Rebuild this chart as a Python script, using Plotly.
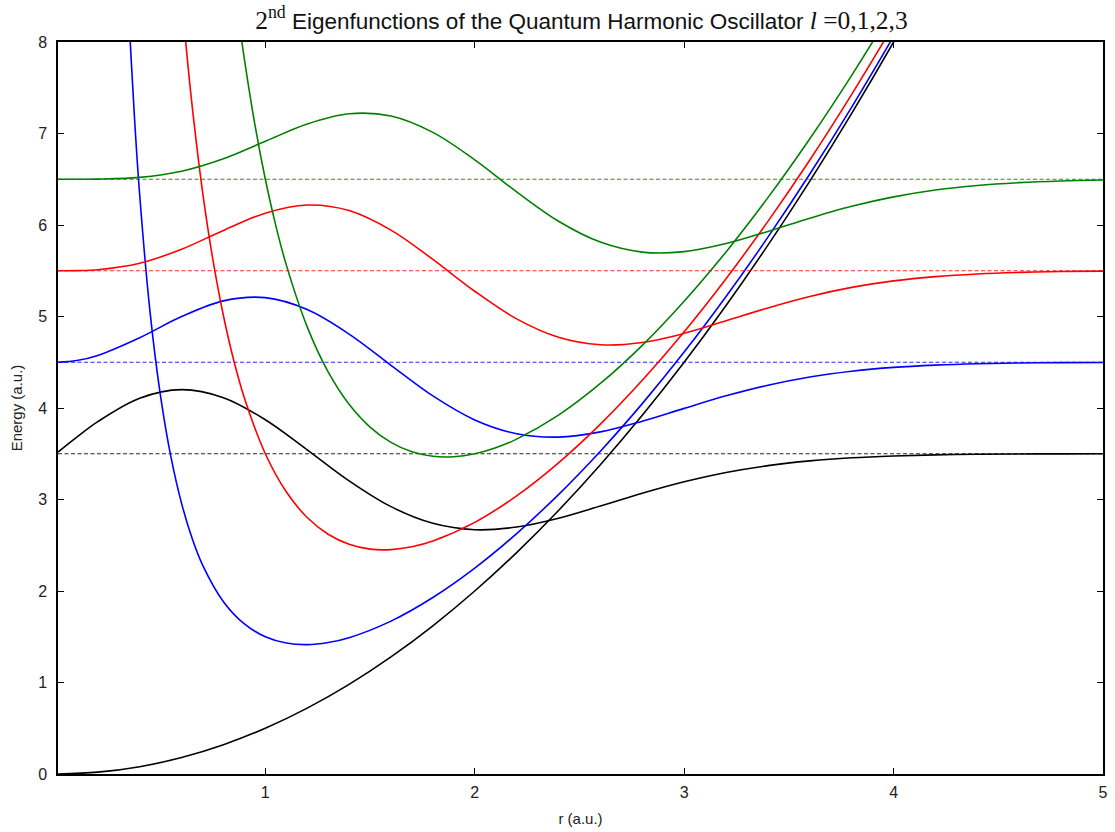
import plotly.graph_objects as go

# ---------------- data ----------------
ls = [0, 1, 2, 3]
colors = ["#000000", "#0000FF", "#FF0000", "#008000"]
energies = [3.5, 4.5, 5.5, 6.5]

# radial grid used for the eigenfunctions
r_wave = [0.01, 0.1, 0.2, 0.4, 0.6, 0.8, 1.0, 1.2, 1.4, 1.6, 1.8, 2.0, 2.2, 2.4,
          2.6, 2.8, 3.0, 3.2, 3.4, 3.6, 3.8, 4.0, 4.2, 4.4, 4.6, 4.8, 5.0]

wave_l0 = [3.518, 3.682, 3.851, 4.107, 4.201, 4.113, 3.872, 3.543, 3.204, 2.922,
           2.740, 2.670, 2.699, 2.796, 2.929, 3.068, 3.193, 3.295, 3.370,
           3.422, 3.456, 3.476, 3.488, 3.494, 3.497, 3.499, 3.500]
wave_l1 = [4.500, 4.519, 4.575, 4.768, 4.999, 5.171, 5.206, 5.076, 4.808, 4.467,
           4.132, 3.870, 3.719, 3.682, 3.739, 3.856, 3.996, 4.133, 4.249,
           4.339, 4.402, 4.444, 4.469, 4.484, 4.492, 4.496, 4.498]
wave_l2 = [5.500, 5.501, 5.511, 5.582, 5.735, 5.941, 6.129, 6.218, 6.158, 5.944,
           5.624, 5.276, 4.974, 4.773, 4.691, 4.716, 4.816, 4.953, 5.094,
           5.219, 5.318, 5.389, 5.436, 5.465, 5.482, 5.491, 5.496]
wave_l3 = [6.500, 6.500, 6.501, 6.520, 6.588, 6.724, 6.915, 7.104, 7.216, 7.191,
           7.012, 6.712, 6.362, 6.041, 5.813, 5.704, 5.709, 5.797, 5.930,
           6.074, 6.204, 6.307, 6.382, 6.432, 6.463, 6.481, 6.491]

# effective potentials
r_pot0 = [0.01, 0.2, 0.4, 0.6, 0.8, 1.0, 1.2, 1.4, 1.6, 1.8, 2.0, 2.2, 2.4,
          2.6, 2.8, 3.0, 3.2, 3.4, 3.6, 3.8, 4.0, 4.2]
pot_l0 = [0.00005, 0.02, 0.08, 0.18, 0.32, 0.5, 0.72, 0.98, 1.28, 1.62, 2.0,
          2.42, 2.88, 3.38, 3.92, 4.5, 5.12, 5.78, 6.48, 7.22, 8.0, 8.82]

r_pot1 = [0.33, 0.35, 0.375, 0.4, 0.45, 0.5, 0.55, 0.6, 0.65, 0.7, 0.8, 0.9,
          1.0, 1.1, 1.2, 1.3, 1.4, 1.6, 1.8, 2.0, 2.2, 2.4, 2.6, 2.8, 3.0,
          3.2, 3.4, 3.6, 3.8, 4.0, 4.2]
pot_l1 = [9.237, 8.225, 7.181, 6.330, 5.040, 4.125, 3.457, 2.958, 2.578,
          2.286, 1.883, 1.640, 1.500, 1.431, 1.414, 1.437, 1.490, 1.671,
          1.929, 2.250, 2.627, 3.054, 3.528, 4.048, 4.611, 5.218, 5.867,
          6.557, 7.289, 8.063, 8.877]

r_pot2 = [0.58, 0.6, 0.625, 0.65, 0.7, 0.75, 0.8, 0.85, 0.9, 1.0, 1.1, 1.2,
          1.3, 1.4, 1.5, 1.6, 1.7, 1.8, 2.0, 2.2, 2.4, 2.6, 2.8, 3.0, 3.2,
          3.4, 3.6, 3.8, 4.0, 4.2]
pot_l2 = [9.086, 8.513, 7.875, 7.312, 6.367, 5.615, 5.008, 4.513, 4.109,
          3.500, 3.084, 2.803, 2.620, 2.511, 2.458, 2.452, 2.483, 2.546,
          2.750, 3.040, 3.401, 3.824, 4.303, 4.833, 5.413, 6.040, 6.711,
          7.428, 8.188, 8.990]

r_pot3 = [0.85, 0.875, 0.9, 0.95, 1.0, 1.05, 1.1, 1.2, 1.3, 1.4, 1.5, 1.6,
          1.7, 1.8, 1.9, 2.0, 2.1, 2.2, 2.4, 2.6, 2.8, 3.0, 3.2, 3.4, 3.6,
          3.8, 4.0]
pot_l3 = [8.666, 8.220, 7.812, 7.099, 6.500, 5.993, 5.564, 4.887, 4.395,
          4.041, 3.792, 3.624, 3.521, 3.472, 3.467, 3.500, 3.566, 3.660,
          3.922, 4.268, 4.685, 5.167, 5.706, 6.299, 6.943, 7.636, 8.375]

x_ticks = [1, 2, 3, 4, 5]
y_ticks = [0, 1, 2, 3, 4, 5, 6, 7, 8]
x_range = [0.01, 5.0]
y_range = [0.0, 8.0]

waves = [wave_l0, wave_l1, wave_l2, wave_l3]
pots = [(r_pot0, pot_l0), (r_pot1, pot_l1), (r_pot2, pot_l2), (r_pot3, pot_l3)]

# ---------------- figure ----------------
fig = go.Figure()

for i, l in enumerate(ls):
    rp, vp = pots[i]
    fig.add_trace(go.Scatter(x=rp, y=vp, mode="lines",
                             line=dict(color=colors[i], width=1.6, shape="spline"),
                             showlegend=False, hoverinfo="skip"))
    fig.add_trace(go.Scatter(x=r_wave, y=waves[i], mode="lines",
                             line=dict(color=colors[i], width=1.6, shape="spline"),
                             showlegend=False, hoverinfo="skip"))
    fig.add_trace(go.Scatter(x=x_range, y=[energies[i], energies[i]], mode="lines",
                             line=dict(color=colors[i], width=1, dash="4px,2.5px"),
                             opacity=0.85, showlegend=False, hoverinfo="skip"))

sans = "Liberation Sans, Arial, sans-serif"
serif = "Liberation Serif, DejaVu Serif, serif"
title_text = (f'<span style="font-family:{serif}; font-size:25.5px">2<sup>nd</sup></span>'
              ' Eigenfunctions of the Quantum Harmonic Oscillator '
              f'<span style="font-family:{serif}; font-size:25.5px"><i>l</i> =0,1,2,3</span>')

axis_common = dict(
    showline=True, linecolor="#000000", linewidth=1.5, mirror="allticks",
    ticks="inside", ticklen=6, tickwidth=1, tickcolor="#000000",
    showgrid=False, zeroline=False, ticklabeloverflow="allow",
    tickfont=dict(family=sans, size=16, color="#222222"),
)

fig.update_layout(
    width=1115, height=832,
    margin=dict(l=58, r=7, t=42, b=50),
    paper_bgcolor="white", plot_bgcolor="white",
    hovermode=False,
    title=dict(text=title_text, x=0.5215, xanchor="center", y=0.975, yanchor="middle",
               font=dict(family=sans, size=22.5, color="#111111")),
    xaxis=dict(range=x_range, tickvals=x_ticks, ticklabelstandoff=3,
               title=dict(text="r (a.u.)", standoff=14,
                          font=dict(family=sans, size=15, color="#222222")),
               **axis_common),
    yaxis=dict(range=y_range, tickvals=y_ticks, ticklabelstandoff=6,
               title=dict(text="Energy (a.u.)", standoff=12,
                          font=dict(family=sans, size=15, color="#222222")),
               **axis_common),
)

fig.write_html("out.html", config={"displayModeBar": False},
               post_script="document.body.style.margin='0';document.body.style.overflow='hidden';")
